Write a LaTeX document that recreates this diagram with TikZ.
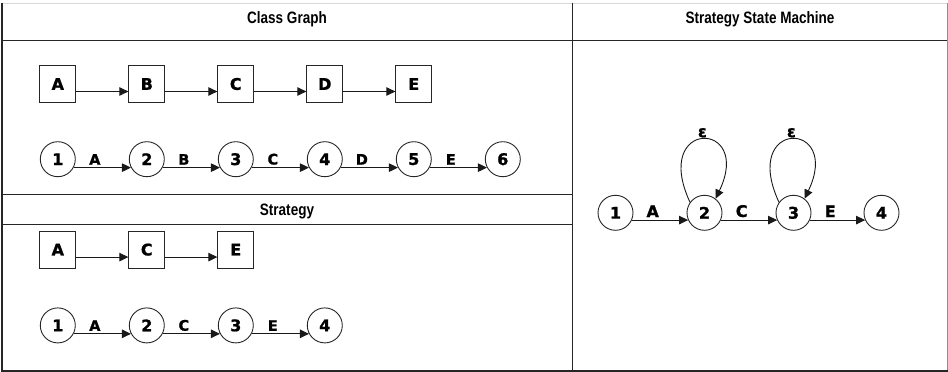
\documentclass[tikz,border=0pt]{standalone}
\usepackage{fontspec}
\setmainfont{Liberation Sans}
\newfontfamily\titlefont{Liberation Sans}[FakeStretch=0.82]
\newfontfamily\labelfont{DejaVu Sans}[UprightFont={* Bold}, FakeBold=1.2]
\usetikzlibrary{arrows.meta}

\tikzset{
  frame/.style={draw=black!85, line width=1pt},
  paneltitle/.style={anchor=base, inner sep=0pt,
    font=\titlefont\bfseries\fontsize{16.5}{16.5}\selectfont},
  classbox/.style={draw=black!85, line width=0.9pt, minimum width=36pt,
    minimum height=37pt, inner sep=0pt,
    font=\labelfont\fontsize{16}{16}\selectfont},
  state/.style={circle, draw=black!85, line width=0.9pt, minimum size=35pt,
    inner sep=0pt, font=\labelfont\fontsize{16}{16}\selectfont},
  flow/.style={-{Triangle[length=9pt,width=8.5pt]}, line width=0.9pt, draw=black!90},
  elabel/.style={above=2.5pt, pos=0.37, inner sep=0pt,
    font=\labelfont\fontsize{14.5}{14.5}\selectfont},
  mlabel/.style={above=2.5pt, pos=0.37, inner sep=0pt,
    font=\labelfont\fontsize{16}{16}\selectfont},
  eplabel/.style={above=1.5pt, pos=0.5, inner sep=0pt,
    font=\labelfont\fontsize{16}{16}\selectfont},
}

\begin{document}
\begin{tikzpicture}[x=1pt, y=-1pt]
\useasboundingbox (0,0) rectangle (948,372);

% outer frame
\draw[black!15, line width=1pt] (2,3) -- (947,3);
\draw[black!45, line width=1pt] (947,3) -- (947,371);
\draw[black!85, line width=1.8pt] (1.8,2.5) -- (1.8,370.8) -- (947.5,370.8);

% panel dividers
\draw[frame] (2,40.5) -- (947,40.5);
\draw[frame] (572,3) -- (572,371);
\draw[frame] (2,194.5) -- (572,194.5);
\draw[frame] (2,224.5) -- (572,224.5);

% panel titles
\node[paneltitle] (tclass) at (287,23.5) {Class Graph};
\node[paneltitle] (tmach) at (760,23.5) {Strategy State Machine};
\node[paneltitle] (tstrat) at (287,215) {Strategy};

% class graph: classes
\foreach \n/\x in {A/57.8, B/146.8, C/235.8, D/324.8, E/413.8}
  \node[classbox] (g\n) at (\x,84) {\n};
\foreach \a/\b in {A/B, B/C, C/D, D/E}
  \draw[flow] ([yshift=-7.5pt]g\a.east) -- ([yshift=-7.5pt]g\b.west);

% class graph: states
\foreach \i/\x in {1/57.8, 2/146.8, 3/235.8, 4/324.8, 5/413.8, 6/502.8}
  \node[state] (c\i) at (\x,159.2) {\i};
\foreach \a/\b/\l in {1/2/A, 2/3/B, 3/4/C, 4/5/D, 5/6/E}
  \draw[flow] (c\a.-28) -- node[elabel] {\l} (c\b.208);

% strategy: classes
\foreach \n/\x in {A/57.8, C/146.8, E/235.8}
  \node[classbox] (s\n) at (\x,249.6) {\n};
\foreach \a/\b in {A/C, C/E}
  \draw[flow] ([yshift=-7.5pt]s\a.east) -- ([yshift=-7.5pt]s\b.west);

% strategy: states
\foreach \i/\x in {1/57.8, 2/146.8, 3/235.8, 4/324.8}
  \node[state] (t\i) at (\x,325.4) {\i};
\foreach \a/\b/\l in {1/2/A, 2/3/C, 3/4/E}
  \draw[flow] (t\a.-28) -- node[elabel] {\l} (t\b.208);

% strategy state machine
\foreach \i/\x in {1/615.5, 2/704.5, 3/793.5, 4/881.5}
  \node[state] (m\i) at (\x,212.8) {\i};
\foreach \a/\b/\l in {1/2/A, 2/3/C, 3/4/E}
  \draw[flow] (m\a.-24) -- node[mlabel] {\l} (m\b.204);
\foreach \i in {2,3}
  \draw[flow] (m\i.144) .. controls +(-39,-84) and +(38,-79) ..
    node[eplabel] {ε} (m\i.52);
\end{tikzpicture}
\end{document}
